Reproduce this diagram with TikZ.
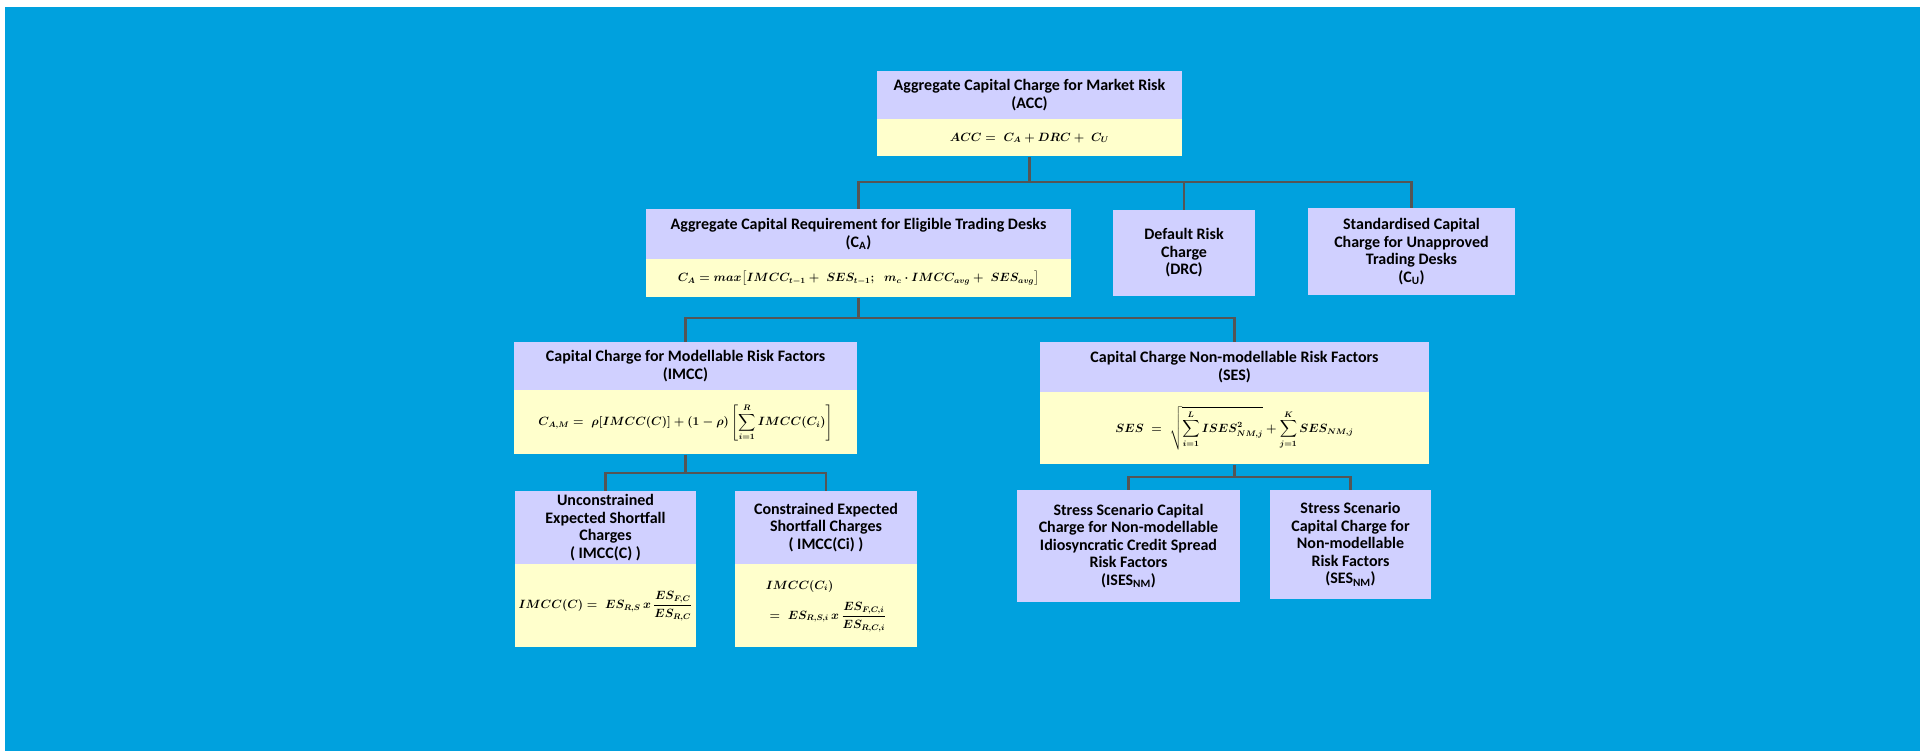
\documentclass[tikz,border=0pt]{standalone}
\usepackage{amsmath}
\usepackage{fontspec}
\setmainfont{Carlito}
\usepackage{xcolor}
\usepackage{tikz}
\usetikzlibrary{positioning}
\definecolor{bgblue}{RGB}{0,161,222}
\definecolor{headblue}{RGB}{208,208,255}
\definecolor{formyellow}{RGB}{255,255,204}
\definecolor{linkgray}{RGB}{85,85,85}

\begin{document}
\begin{tikzpicture}[x=1pt, y=-1pt,
        head/.style={fill=headblue, align=center, inner sep=0pt, font=\fontsize{16}{17.5}\selectfont\bfseries},
        form/.style={fill=formyellow, align=center, inner sep=0pt, font=\fontsize{12}{30}\selectfont\boldmath},
        link/.style={draw=linkgray, line width=2.5pt}]
        \useasboundingbox (0,0) rectangle (1920,751);
        \fill[bgblue] (5,7) rectangle (1920,751);

        % top box
        \node[head, minimum width=305, minimum height=48] at (1029.5,95) (acch) {Aggregate Capital Charge for Market Risk\\(ACC)};
        \node[form, minimum width=305, minimum height=37, below=0pt of acch] (accf) {$ACC =\; C_A + DRC +\; C_U$};

        % second row
        \node[head, minimum width=425, minimum height=50] at (858.5,234) (cah) {Aggregate Capital Requirement for Eligible Trading Desks\\(C\textsubscript{A})};
        \node[form, minimum width=425, minimum height=38, below=0pt of cah] (caf) {$C_A = max\bigl[IMCC_{t-1} +\; SES_{t-1};\;\; m_c\cdot IMCC_{avg} +\; SES_{avg}\bigr]$};

        \node[head, minimum width=142, minimum height=86] at (1184,253) (drch) {Default Risk\\Charge\\(DRC)};
        \node[head, minimum width=207, minimum height=87] at (1411.5,251.5) (stdh) {Standardised Capital\\Charge for Unapproved\\Trading Desks\\(C\textsubscript{U})};

        % third row
        \node[head, minimum width=343, minimum height=48] at (685.5,366) (imcch) {Capital Charge for Modellable Risk Factors\\(IMCC)};
        \node[form, minimum width=343, minimum height=64, below=0pt of imcch] (imccf) {$C_{A,M} =\; \rho[IMCC(C)] + (1-\rho)\left[\displaystyle\sum_{i=1}^{R} IMCC(C_i)\right]$};

        \node[head, minimum width=389, minimum height=50] at (1234.5,367) (sesh) {Capital Charge Non-modellable Risk Factors\\(SES)};
        \node[form, minimum width=389, minimum height=72, below=0pt of sesh] (sesf) {$SES \;=\; \sqrt{\displaystyle\sum_{i=1}^{L} ISES^2_{NM,j}} + \displaystyle\sum_{j=1}^{K} SES_{NM,j}$};

        % bottom row
        \node[head, minimum width=181, minimum height=73] at (605.5,527.5) (unch) {Unconstrained\\Expected Shortfall\\Charges\\( IMCC(C) )};
        \node[form, minimum width=181, minimum height=83, below=0pt of unch] (uncf) {$IMCC(C) =\; ES_{R,S}\, x\, \dfrac{ES_{F,C}}{ES_{R,C}}$};

        \node[head, minimum width=182, minimum height=73] at (826,527.5) (conh) {Constrained Expected\\Shortfall Charges\\( IMCC(Ci) )};
        \node[form, align=left, minimum width=182, minimum height=83, below=0pt of conh] (conf) {$IMCC(C_i)$\\$\;=\; ES_{R,S,i}\, x\, \dfrac{ES_{F,C,i}}{ES_{R,C,i}}$};

        \node[head, minimum width=223, minimum height=112] at (1128.5,546) (isesh) {Stress Scenario Capital\\Charge for Non-modellable\\Idiosyncratic Credit Spread\\Risk Factors\\(ISES\textsubscript{NM})};
        \node[head, minimum width=161, minimum height=109] at (1350.5,544.5) (sesnmh) {Stress Scenario\\Capital Charge for\\Non-modellable\\Risk Factors\\(SES\textsubscript{NM})};

        % connectors
        \coordinate (j1) at (1029.5,182);
        \coordinate (j2) at (858.5,318);
        \coordinate (j3) at (685.5,473);
        \coordinate (j4) at (1234.5,477);

        \draw[link] (accf) -- (j1) -| (cah);
        \draw[link] (j1) -| (drch);
        \draw[link] (j1) -| (stdh);

        \draw[link] (caf) -- (j2) -| (imcch);
        \draw[link] (j2) -| (sesh);

        \draw[link] (imccf) -- (j3) -| (unch);
        \draw[link] (j3) -| (conh);

        \draw[link] (sesf) -- (j4) -| (isesh);
        \draw[link] (j4) -| (sesnmh);
\end{tikzpicture}
\end{document}
